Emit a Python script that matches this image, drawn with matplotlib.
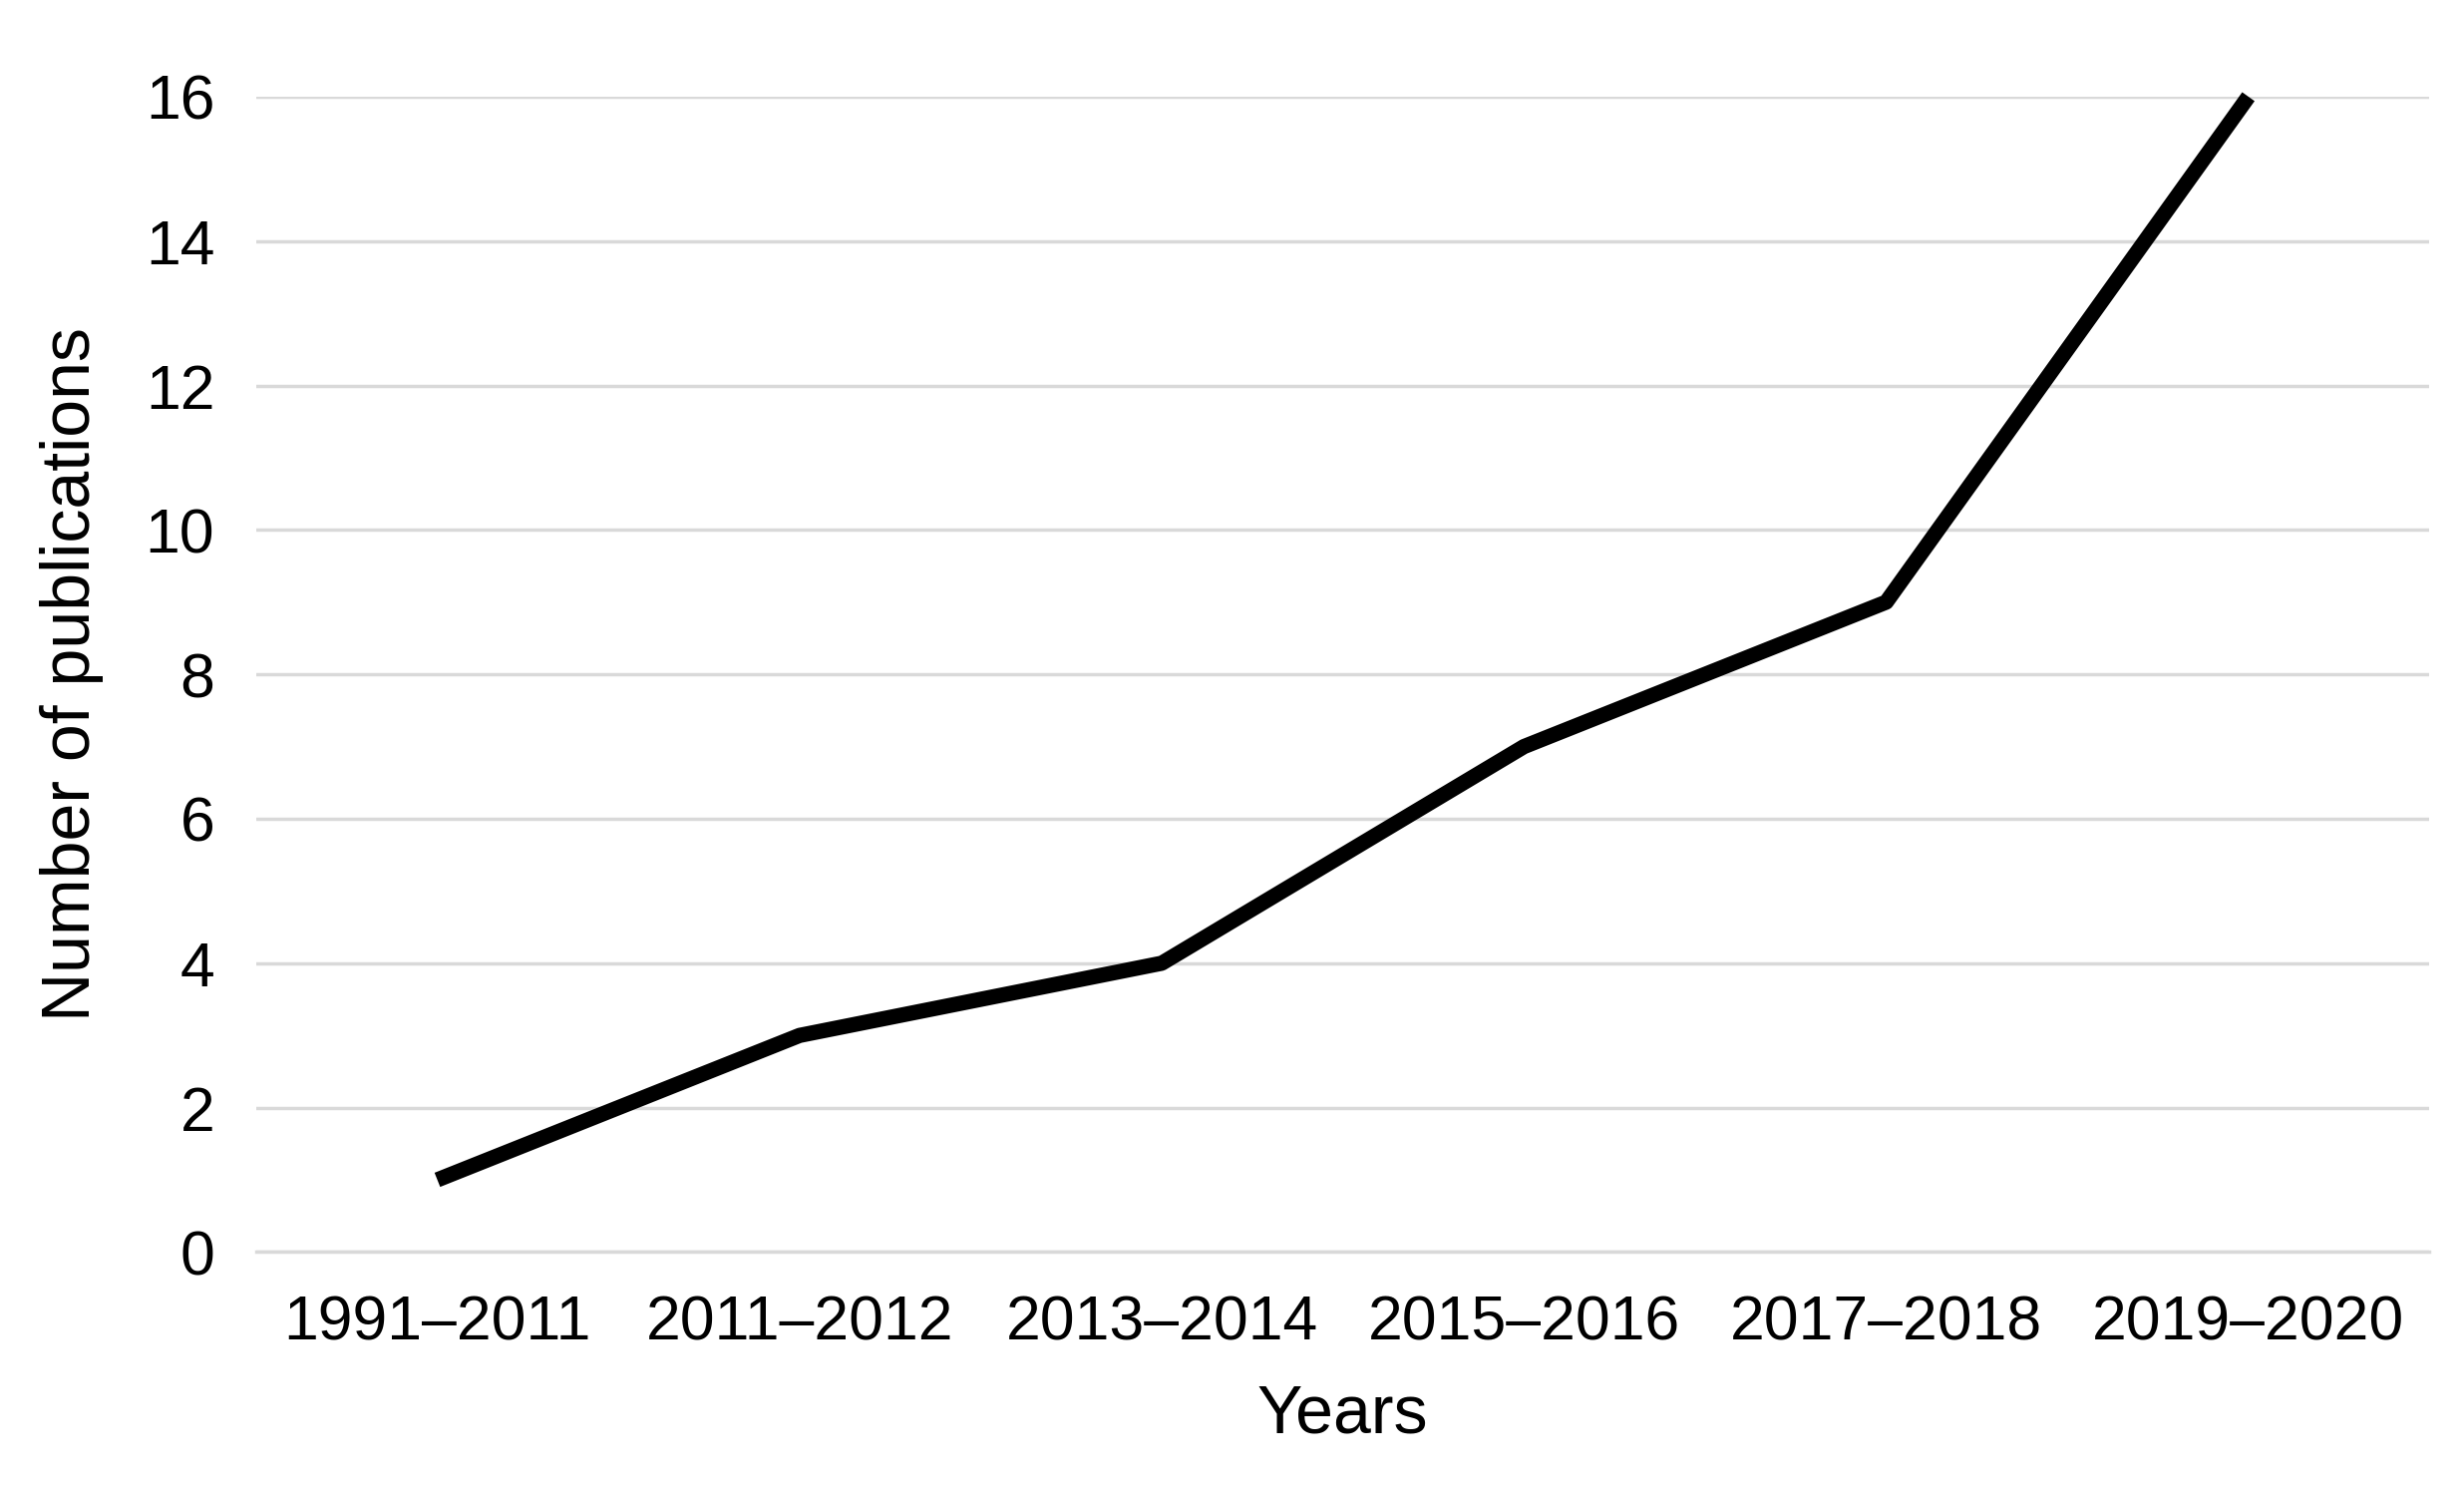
import matplotlib.pyplot as plt

years = ['1991–2011', '2011–2012', '2013–2014', '2015–2016', '2017–2018', '2019–2020']
publications = [1, 3, 4, 7, 9, 16]

plt.rcParams['font.family'] = ['Liberation Sans', 'DejaVu Sans']

fig = plt.figure(figsize=(24.71, 14.91), dpi=100)
ax = fig.add_axes([0.104, 0.158, 0.882, 0.777])

ax.plot(range(len(years)), publications, color='black', linewidth=11,
        solid_capstyle='butt', clip_on=False, zorder=3)

ax.set_xlim(-0.5, len(years) - 0.5)
ax.set_ylim(0, 16)
ax.set_yticks(range(0, 17, 2))
ax.set_xticks(range(len(years)))
ax.set_xticklabels(years)
ax.grid(axis='y', color='#d9d9d9', linewidth=2.5)
ax.set_axisbelow(True)
for s in ['top', 'right', 'left']:
    ax.spines[s].set_visible(False)
ax.spines['bottom'].set_color('#d9d9d9')
ax.spines['bottom'].set_linewidth(2.5)
ax.tick_params(length=0, labelsize=45, pad=30)

ax.set_xlabel('Years', fontsize=49, labelpad=22)
ax.set_ylabel('Number of publications', fontsize=49, labelpad=30)

fig.savefig('out.png', dpi=100)
